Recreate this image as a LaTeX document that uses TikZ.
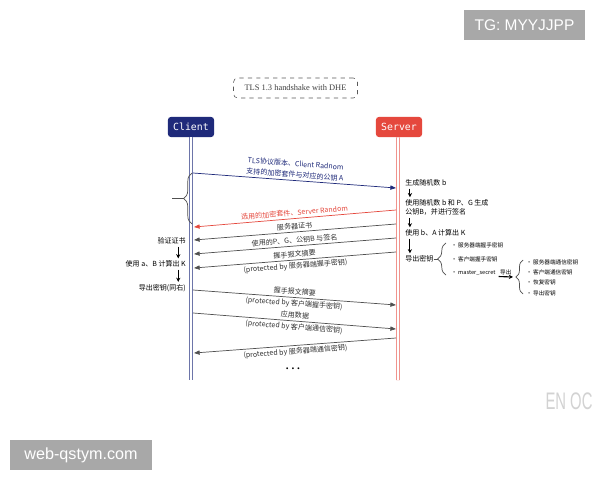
\documentclass[tikz,border=0pt]{standalone}
\usepackage{fontspec}
\setmainfont{Liberation Serif}
\newfontfamily\cjk{Noto Sans CJK SC}
\newfontfamily\monofont{DejaVu Sans Mono}
\newfontfamily\wmfont{Liberation Sans}
\usetikzlibrary{arrows.meta,decorations.pathreplacing,positioning}

\definecolor{clientblue}{HTML}{1F2A7A}
\definecolor{serverred}{HTML}{E5483D}
\definecolor{msggray}{HTML}{505050}
\definecolor{wmgray}{HTML}{A8A8A8}

\tikzset{
  actor/.style={rounded corners=2pt,text=white,minimum width=1.15cm,minimum height=0.5cm,
    inner sep=0pt,font=\monofont\fontsize{7}{8}\selectfont},
  life/.style={line width=0.6pt,double=white,double distance=1.2pt},
  msg/.style={line width=0.5pt,-{Triangle[length=4pt,width=3pt]}},
  lbl/.style={font=\cjk\fontsize{5}{7.8}\selectfont,inner sep=1.5pt,sloped,align=center},
  stepnote/.style={font=\cjk\fontsize{5}{6.5}\selectfont,inner sep=0pt},
  down/.style={line width=0.8pt,-{Stealth[length=3pt,width=3pt]}},
  keyitem/.style={font=\cjk\fontsize{4}{5}\selectfont,anchor=west,inner sep=0pt},
  keybrace/.style={decorate,decoration={brace,amplitude=#1},line width=0.5pt,msggray},
}

\begin{document}
\begin{tikzpicture}[x=0.025cm,y=-0.025cm]
  \fill[white] (0,0) rectangle (600,480);
  \useasboundingbox (0,0) rectangle (600,480);

  % title and actors
  \node[draw=black!65,dashed,rounded corners=3pt,minimum width=3.1cm,minimum height=0.5cm,
    font=\fontsize{6}{7}\selectfont,text=black!75] (title) at (295.5,88) {TLS 1.3 handshake with DHE};
  \node[actor,fill=clientblue] (client) at (191,127) {Client};
  \node[actor,fill=serverred] (server) at (399,127) {Server};
  \coordinate (cend) at (191,380);
  \coordinate (send) at (398,380);
  \draw[life,draw=clientblue!65] (client.south) -- (cend);
  \draw[life,draw=serverred!90] ([xshift=-0.7pt]server.south) -- (send);

  % message ends on the lifelines
  \coordinate (c1) at (193,173);  \coordinate (s1) at (396,188);
  \coordinate (s2) at (396,210);  \coordinate (c2) at (194,227);
  \coordinate (s3) at (396,224);  \coordinate (c3) at (194,240);
  \coordinate (s4) at (396,238);  \coordinate (c4) at (194,254);
  \coordinate (s5) at (396,252);  \coordinate (c5) at (194,268);
  \coordinate (c6) at (193,290);  \coordinate (s6) at (396,305);
  \coordinate (c7) at (193,313);  \coordinate (s7) at (396,329);
  \coordinate (s8) at (396,338);  \coordinate (c8) at (194,353);

  \draw[msg,clientblue] (c1) -- node[lbl,above,text=clientblue] {TLS协议版本、Client Radnom\\支持的加密套件与对应的公钥 A} (s1);
  \draw[msg,serverred] (s2) -- node[lbl,above,text=serverred] {选用的加密套件、Server Random} (c2);
  \draw[msg,msggray] (s3) -- node[lbl,above,text=black!80] {服务器证书} (c3);
  \draw[msg,msggray] (s4) -- node[lbl,above,text=black!80] {使用的P、G、公钥B 与签名} (c4);
  \draw[msg,msggray] (s5) -- node[lbl,above,text=black!80] {握手报文摘要}
    node[lbl,below,text=black!80] {(protected by 服务器端握手密钥)} (c5);
  \draw[msg,msggray] (c6) -- node[lbl,above,text=black!80] {握手报文摘要}
    node[lbl,below,text=black!80] {(protected by 客户端握手密钥)} (s6);
  \draw[msg,msggray] (c7) -- node[lbl,above,text=black!80] {应用数据}
    node[lbl,below,text=black!80] {(protected by 客户端通信密钥)} (s7);
  \draw[msg,msggray] (s8) -- node[lbl,below,text=black!80] {(protected by 服务器端通信密钥)} (c8);
  \node[font=\fontsize{8}{8}\selectfont\bfseries] (more) at (293,369) {.\ .\ .};

  % first flight brace
  \coordinate (bracetip) at (183.5,198.5);
  \coordinate (bracetail) at (172,198.5);
  \draw[keybrace=6pt] (192,224) -- (192,173);
  \draw[line width=0.5pt,msggray] (bracetip) -- (bracetail);

  % client steps
  \node[stepnote,anchor=east] (verify) at (186,241) {验证证书};
  \node[stepnote,anchor=east] (calcK) at (186,264) {使用 a、B 计算出 K};
  \node[stepnote,anchor=east] (derive) at (186,288) {导出密钥(同右)};
  \draw[down] ([xshift=-5.5pt,yshift=-1.5pt]verify.south east) -- ([xshift=-5.5pt,yshift=1.5pt]calcK.north east);
  \draw[down] ([xshift=-5.5pt,yshift=-1.5pt]calcK.south east) -- ([xshift=-5.5pt,yshift=1.5pt]derive.north east);

  % server steps
  \node[stepnote,anchor=west] (genb) at (405,183) {生成随机数 b};
  \node[stepnote,anchor=west,align=left] (genB) at (405,207.5) {使用随机数 b 和 P、G 生成\\公钥B，并进行签名};
  \node[stepnote,anchor=west] (calcKs) at (405,233) {使用 b、A 计算出 K};
  \node[stepnote,anchor=west] (derives) at (405,259) {导出密钥};
  \draw[down] ([xshift=3.5pt,yshift=-1.5pt]genb.south west) -- ([xshift=3.5pt,yshift=1.5pt]genB.north west);
  \draw[down] ([xshift=3.5pt,yshift=-1.5pt]genB.south west) -- ([xshift=3.5pt,yshift=1.5pt]calcKs.north west);
  \draw[down] ([xshift=3.5pt,yshift=-1.5pt]calcKs.south west) -- ([xshift=3.5pt,yshift=1.5pt]derives.north west);

  % derived keys
  \coordinate (br1) at (438,259);
  \draw[line width=0.5pt,msggray] (derives.east) -- (br1);
  \draw[keybrace=6pt] (446,275) -- (446,243);
  \node[keyitem] (k1) at (451,245) {• 服务器端握手密钥};
  \node[keyitem] (k2) at (451,259) {• 客户端握手密钥};
  \node[keyitem] (k3) at (451,273) {• master\_secret};
  \coordinate (br2) at (513,277);
  \draw[line width=0.8pt,-{Stealth[length=3pt,width=3pt]}] ([xshift=2pt,yshift=-2.5pt]k3.east) --
    node[keyitem,anchor=south,yshift=1pt] (kdf) {导出} (br2);
  \draw[keybrace=5pt] (523,294) -- (523,260);
  \node[keyitem] (k4) at (526,262) {• 服务器端通信密钥};
  \node[keyitem] (k5) at (526,272) {• 客户端通信密钥};
  \node[keyitem] (k6) at (526,282) {• 恢复密钥};
  \node[keyitem] (k7) at (526,293) {• 导出密钥};

  % marks on the page
  \node[fill=wmgray,text=white,font=\wmfont\fontsize{11}{13}\selectfont,minimum width=3.025cm,
    minimum height=0.75cm,inner sep=0pt] (tg) at (524.5,25) {TG: MYYJJPP};
  \node[fill=wmgray,text=white,font=\wmfont\fontsize{11.5}{13}\selectfont,minimum width=3.55cm,
    minimum height=0.75cm,inner sep=0pt] (web) at (81,455) {web-qstym.com};
  \node[text=gray!35,font=\wmfont\fontsize{17}{18}\selectfont,xscale=0.62,inner sep=0pt] (enoc) at (569,401) {EN OC};
\end{tikzpicture}
\end{document}
